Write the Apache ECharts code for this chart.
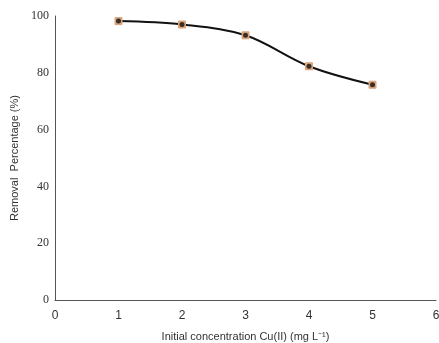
<!DOCTYPE html>
<html>
<head>
<meta charset="utf-8">
<script src="https://cdn.jsdelivr.net/npm/echarts@6/dist/echarts.min.js"></script>
<style>
  html, body { margin: 0; padding: 0; background: #fff; }
  #chart { width: 439px; height: 343px; }
</style>
</head>
<body>
<div id="chart"></div>
<script>
const concentrations = [1, 2, 3, 4, 5];
const removal = [98.2, 97.0, 93.2, 82.3, 75.8];

const points = concentrations.map((c, i) => [c, removal[i]]);

const chart = echarts.init(document.getElementById('chart'));

const option = {
  animation: false,
  grid: { left: 55, right: 3, top: 16, bottom: 43, outerBoundsMode: 'none' },
  xAxis: {
    type: 'value',
    min: 0,
    max: 6,
    interval: 1,
    name: 'Initial concentration Cu(II) (mg L⁻¹)',
    nameLocation: 'middle',
    nameGap: 31,
    nameTextStyle: { fontFamily: 'Liberation Sans', fontSize: 11, color: '#333' },
    axisLine: { lineStyle: { color: '#555', width: 1 } },
    axisTick: { show: false },
    splitLine: { show: false },
    axisLabel: { fontFamily: 'Liberation Sans', fontSize: 12, color: '#333', margin: 10 }
  },
  yAxis: {
    type: 'value',
    min: 0,
    max: 100,
    interval: 20,
    name: 'Removal  Percentage (%)',
    nameLocation: 'middle',
    nameGap: 35,
    nameTextStyle: { fontFamily: 'Liberation Sans', fontSize: 11, color: '#333' },
    axisLine: { show: true, lineStyle: { color: '#555', width: 1 } },
    axisTick: { show: false },
    splitLine: { show: false },
    axisLabel: { fontFamily: 'Liberation Serif', fontSize: 12, color: '#333', margin: 6 }
  },
  series: [
    {
      type: 'line',
      data: points,
      smooth: 0.35,
      lineStyle: { color: '#111', width: 2 },
      symbol: 'rect',
      symbolSize: 7,
      itemStyle: { color: '#d8a57c', borderColor: '#d8a57c' },
      z: 2
    },
    {
      type: 'scatter',
      data: points,
      symbol: 'circle',
      symbolSize: 5,
      itemStyle: { color: '#111' },
      z: 3
    }
  ]
};

chart.setOption(option);
</script>
</body>
</html>
